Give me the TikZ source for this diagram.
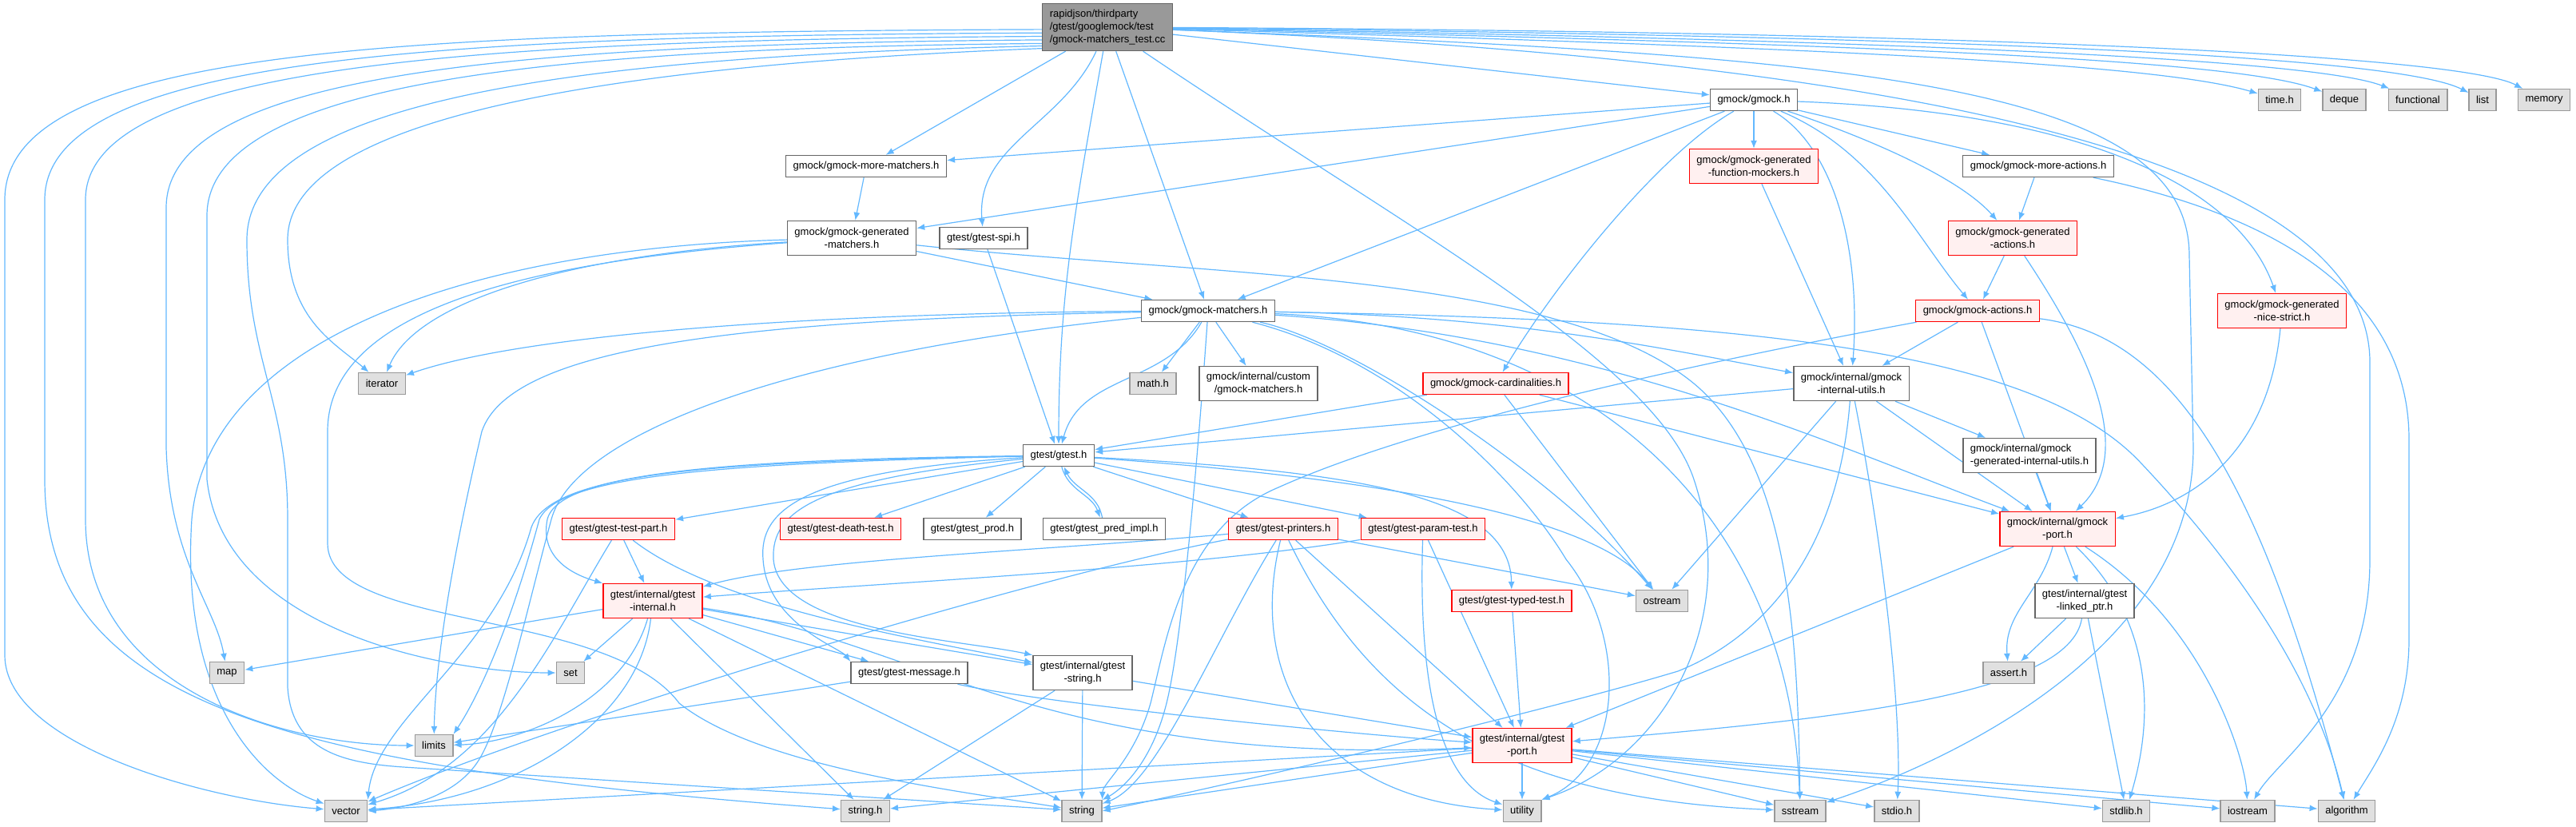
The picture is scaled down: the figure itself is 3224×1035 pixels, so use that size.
\documentclass[tikz,border=0pt]{standalone}
\usepackage{fontspec}
\setmainfont{Liberation Sans}
\usetikzlibrary{arrows.meta}
\definecolor{edgeblue}{HTML}{63B8FF}
\definecolor{boxgray}{HTML}{666666}
\definecolor{sysgray}{HTML}{999999}
\definecolor{sysfill}{HTML}{E0E0E0}
\definecolor{truncred}{HTML}{FF0000}
\definecolor{truncfill}{HTML}{FFF0F0}
\definecolor{rootfill}{HTML}{999999}
\pgfdeclarelayer{background}
\pgfsetlayers{background,main}

\begin{document}
\begin{tikzpicture}[
  x=1pt,y=-1pt,
  hfile/.style={rectangle,draw=boxgray,fill=white,line width=1.4pt,inner xsep=9pt,inner ysep=2pt,minimum height=27pt,align=center,font=\fontsize{13}{15.7}\selectfont},
  twoline/.style={minimum height=43pt},
  sysfile/.style={hfile,draw=sysgray,fill=sysfill},
  trunc/.style={hfile,draw=truncred,fill=truncfill},
  rootfile/.style={hfile,fill=rootfill,align=left,minimum height=59pt},
  dep/.style={draw=edgeblue,line width=1.2pt,-{Latex[length=10pt,width=8pt]}}
]
\useasboundingbox (0,0) rectangle (3224,1035);

% files
\node[rootfile] (root) at (1386,34) {rapidjson/thirdparty\\/gtest/googlemock/test\\/gmock-matchers\_test.cc};
\node[hfile] (gmock) at (2195,125) {gmock/gmock.h};
\node[sysfile] (timeh) at (2853,125) {time.h};
\node[sysfile] (deque) at (2934,125) {deque};
\node[sysfile] (functional) at (3026,125) {functional};
\node[sysfile] (list) at (3107,125) {list};
\node[sysfile] (memory) at (3184,125) {memory};
\node[hfile] (moremat) at (1084,208) {gmock/gmock-more-matchers.h};
\node[trunc,twoline] (genfunc) at (2195,208) {gmock/gmock-generated\\-function-mockers.h};
\node[hfile] (moreact) at (2551,208) {gmock/gmock-more-actions.h};
\node[hfile,twoline] (genmat) at (1066,298) {gmock/gmock-generated\\-matchers.h};
\node[hfile] (spi) at (1231,298) {gtest/gtest-spi.h};
\node[trunc,twoline] (genact) at (2519,298) {gmock/gmock-generated\\-actions.h};
\node[hfile] (matchers) at (1512,389) {gmock/gmock-matchers.h};
\node[trunc] (actions) at (2475,389) {gmock/gmock-actions.h};
\node[trunc,twoline] (nicestrict) at (2856,389) {gmock/gmock-generated\\-nice-strict.h};
\node[sysfile] (iterator) at (478,480) {iterator};
\node[sysfile] (mathh) at (1443,480) {math.h};
\node[hfile,twoline] (custom) at (1575,480) {gmock/internal/custom\\/gmock-matchers.h};
\node[trunc] (card) at (1872,480) {gmock/gmock-cardinalities.h};
\node[hfile,twoline] (intutils) at (2317,480) {gmock/internal/gmock\\-internal-utils.h};
\node[hfile] (gtest) at (1325,570) {gtest/gtest.h};
\node[hfile,twoline,align=left] (genutils) at (2540,570) {gmock/internal/gmock\\-generated-internal-utils.h};
\node[trunc] (testpart) at (774,662) {gtest/gtest-test-part.h};
\node[trunc] (death) at (1052,662) {gtest/gtest-death-test.h};
\node[hfile] (prod) at (1217,662) {gtest/gtest\_prod.h};
\node[hfile] (pred) at (1382,662) {gtest/gtest\_pred\_impl.h};
\node[trunc] (printers) at (1606,662) {gtest/gtest-printers.h};
\node[trunc] (param) at (1781,662) {gtest/gtest-param-test.h};
\node[trunc,twoline] (gmockport) at (2575,662) {gmock/internal/gmock\\-port.h};
\node[trunc,twoline] (gtinternal) at (817,752) {gtest/internal/gtest\\-internal.h};
\node[trunc] (typed) at (1892,752) {gtest/gtest-typed-test.h};
\node[sysfile] (ostream) at (2080,752) {ostream};
\node[hfile,twoline] (linked) at (2609,752) {gtest/internal/gtest\\-linked\_ptr.h};
\node[sysfile] (map) at (284,842) {map};
\node[sysfile] (set) at (714,842) {set};
\node[hfile] (message) at (1138,842) {gtest/gtest-message.h};
\node[hfile,twoline] (gtstring) at (1355,842) {gtest/internal/gtest\\-string.h};
\node[sysfile] (asserth) at (2514,842) {assert.h};
\node[sysfile] (limits) at (543,933) {limits};
\node[trunc,twoline] (gtport) at (1905,933) {gtest/internal/gtest\\-port.h};
\node[sysfile] (vector) at (433,1015) {vector};
\node[sysfile] (stringh) at (1083,1015) {string.h};
\node[sysfile] (string) at (1354,1015) {string};
\node[sysfile] (utility) at (1905,1015) {utility};
\node[sysfile] (sstream) at (2253,1015) {sstream};
\node[sysfile] (stdioh) at (2374,1015) {stdio.h};
\node[sysfile] (stdlibh) at (2661,1015) {stdlib.h};
\node[sysfile] (iostream) at (2813,1015) {iostream};
\node[sysfile] (algorithm) at (2937,1015) {algorithm};

\begin{pgfonlayer}{background}
% includes of the test file
\draw[dep] (root.182) .. controls (500,40) and (6,60) .. (6,250) -- (6,820) .. controls (6,930) and (250,1000) .. (vector);
\draw[dep] (root.185) .. controls (550,45) and (56,70) .. (56,250) -- (56,600) .. controls (56,880) and (350,960) .. (stringh);
\draw[dep] (root.188) .. controls (600,50) and (107,80) .. (107,250) -- (107,650) .. controls (107,860) and (350,933) .. (limits);
\draw[dep] (root.191) .. controls (650,55) and (208,90) .. (208,260) -- (208,560) .. controls (212,700) and (270,760) .. (map);
\draw[dep] (root.194) .. controls (700,60) and (259,100) .. (259,270) -- (259,600) .. controls (280,790) and (560,842) .. (set);
\draw[dep] (root.196) .. controls (750,70) and (309,120) .. (309,300) .. controls (309,450) and (360,500) .. (360,650) -- (360,860) .. controls (365,940) and (430,955) .. (505,960) -- (string);
\draw[dep] (root.198) .. controls (800,80) and (360,140) .. (360,300) .. controls (360,400) and (420,430) .. (iterator);
\draw[dep] (root) -- (moremat);
\draw[dep] (root) to[out=-115,in=95] (spi);
\draw[dep] (root) to[out=-100,in=90] (gtest);
\draw[dep] (root) -- (matchers);
\draw[dep] (root) .. controls (1750,280) and (2070,450) .. (2120,600) .. controls (2180,780) and (2080,950) .. (utility.north east);
\draw[dep] (root) -- (gmock);
\draw[dep] (root) .. controls (2300,60) and (2700,80) .. (timeh);
\draw[dep] (root) .. controls (2350,55) and (2800,75) .. (deque);
\draw[dep] (root) .. controls (2400,50) and (2900,75) .. (functional);
\draw[dep] (root) .. controls (2450,45) and (3000,70) .. (list);
\draw[dep] (root) .. controls (2500,40) and (3080,70) .. (memory);
\draw[dep] (root) .. controls (2300,70) and (2740,100) .. (2740,320) -- (2745,560) .. controls (2745,820) and (2420,960) .. (sstream);
\draw[dep] (root) .. controls (2400,75) and (2960,200) .. (2966,450) -- (2966,700) .. controls (2966,880) and (2850,950) .. (iostream);
% gmock/gmock.h
\draw[dep] (gmock) -- (moremat);
\draw[dep] (gmock) -- (genmat);
\draw[dep] (gmock) -- (matchers);
\draw[dep] (gmock) .. controls (2080,190) and (1950,350) .. (card);
\draw[dep] (gmock) -- (genfunc);
\draw[dep] (gmock) -- (moreact);
\draw[dep] (gmock) .. controls (2330,170) and (2450,220) .. (genact);
\draw[dep] (gmock) .. controls (2350,190) and (2400,300) .. (actions);
\draw[dep] (gmock) .. controls (2290,180) and (2330,300) .. (intutils);
\draw[dep] (gmock) .. controls (2600,140) and (2800,230) .. (nicestrict);
\draw[dep] (moremat) -- (genmat);
\draw[dep] (genmat) .. controls (700,320) and (520,380) .. (iterator);
\draw[dep] (genmat) .. controls (600,310) and (260,420) .. (240,650) .. controls (225,880) and (330,980) .. (vector);
\draw[dep] (genmat) .. controls (620,330) and (410,400) .. (410,540) -- (410,680) .. controls (410,790) and (760,760) .. (850,880) .. controls (950,960) and (1200,990) .. (string);
\draw[dep] (genmat) -- (matchers);
\draw[dep] (genmat) .. controls (1500,345) and (1950,340) .. (2120,480) .. controls (2240,580) and (2250,800) .. (sstream);
\draw[dep] (spi) -- (gtest);
% gmock/gmock-matchers.h
\draw[dep] (matchers) -- (mathh);
\draw[dep] (matchers) -- (custom);
\draw[dep] (matchers) .. controls (1000,392) and (650,420) .. (iterator);
\draw[dep] (matchers) .. controls (950,400) and (640,430) .. (603,540) .. controls (570,680) and (545,820) .. (limits);
\draw[dep] (matchers) .. controls (1000,440) and (720,540) .. (690,650) .. controls (660,760) and (630,900) .. (600,950) .. controls (570,1000) and (500,1012) .. (vector.east);
\draw[dep] (matchers) to[out=-120,in=75] (gtest);
\draw[dep] (matchers) .. controls (1500,560) and (1480,800) .. (1460,880) .. controls (1440,960) and (1400,990) .. (string);
\draw[dep] (matchers) .. controls (1700,430) and (1950,600) .. (ostream);
\draw[dep] (matchers) .. controls (1750,450) and (1900,600) .. (1960,700) .. controls (2040,800) and (2030,960) .. (utility.north east);
\draw[dep] (matchers) .. controls (1900,395) and (2100,440) .. (intutils);
\draw[dep] (matchers) .. controls (2000,420) and (2300,560) .. (gmockport);
\draw[dep] (matchers) .. controls (2200,400) and (2550,440) .. (2680,580) .. controls (2850,760) and (2910,900) .. (algorithm);
\draw[dep] (matchers) .. controls (2000,410) and (2240,650) .. (sstream);
% gtest/gtest.h
\draw[dep] (gtest) -- (death);
\draw[dep] (gtest) -- (prod);
\draw[dep] (gtest) to[out=-75,in=110] (pred);
\draw[dep] (pred) to[out=100,in=-65] (gtest);
\draw[dep] (gtest) -- (printers);
\draw[dep] (gtest) -- (param);
\draw[dep] (gtest) .. controls (1700,590) and (1890,620) .. (typed);
\draw[dep] (gtest) .. controls (1750,600) and (2000,650) .. (ostream);
\draw[dep] (gtest) -- (testpart);
\draw[dep] (gtest) .. controls (920,575) and (700,590) .. (685,650) .. controls (675,700) and (720,720) .. (gtinternal.north west);
\draw[dep] (gtest) .. controls (1000,590) and (950,640) .. (955,700) .. controls (960,780) and (1050,810) .. (message.north west);
\draw[dep] (gtest) .. controls (1020,600) and (965,640) .. (968,700) .. controls (975,790) and (1200,800) .. (gtstring.north west);
\draw[dep] (gtest) .. controls (900,580) and (700,595) .. (675,650) .. controls (640,780) and (600,870) .. (limits.north east);
\draw[dep] (gtest) .. controls (900,578) and (690,590) .. (665,660) .. controls (620,820) and (470,900) .. (vector.north east);
% gtest parts
\draw[dep] (testpart) .. controls (690,800) and (620,960) .. (vector);
\draw[dep] (testpart) -- (gtinternal);
\draw[dep] (testpart) .. controls (900,760) and (1150,800) .. (gtstring);
\draw[dep] (printers) .. controls (1300,690) and (1000,700) .. (gtinternal);
\draw[dep] (printers) -- (ostream);
\draw[dep] (printers) .. controls (1520,800) and (1450,980) .. (string);
\draw[dep] (printers) .. controls (1560,850) and (1650,1000) .. (utility);
\draw[dep] (printers) .. controls (1720,900) and (1900,1000) .. (sstream);
\draw[dep] (printers) -- (gtport);
\draw[dep] (printers) .. controls (1300,720) and (700,900) .. (vector);
\draw[dep] (param) .. controls (1500,710) and (1100,730) .. (gtinternal);
\draw[dep] (param) .. controls (1775,850) and (1800,980) .. (utility);
\draw[dep] (param) -- (gtport);
\draw[dep] (typed) -- (gtport);
\draw[dep] (gtinternal) -- (map);
\draw[dep] (gtinternal) -- (set);
\draw[dep] (gtinternal) .. controls (780,880) and (650,930) .. (limits);
\draw[dep] (gtinternal) .. controls (800,900) and (650,1000) .. (vector);
\draw[dep] (gtinternal) -- (stringh);
\draw[dep] (gtinternal) -- (string);
\draw[dep] (gtinternal) -- (message);
\draw[dep] (gtinternal) -- (gtstring);
\draw[dep] (gtinternal) .. controls (1150,800) and (1300,960) .. (gtport);
\draw[dep] (message) -- (limits);
\draw[dep] (message) .. controls (1300,880) and (1700,920) .. (gtport);
\draw[dep] (gtstring) -- (stringh);
\draw[dep] (gtstring) -- (string);
\draw[dep] (gtstring) -- (gtport);
\draw[dep] (gtport) -- (vector);
\draw[dep] (gtport) -- (stringh);
\draw[dep] (gtport) -- (string);
\draw[dep] (gtport) -- (utility);
\draw[dep] (gtport) -- (sstream);
\draw[dep] (gtport) -- (stdioh);
\draw[dep] (gtport) -- (stdlibh);
\draw[dep] (gtport) -- (iostream);
\draw[dep] (gtport) -- (algorithm);
% gmock internals
\draw[dep] (gmockport) -- (gtport);
\draw[dep] (gmockport) to[out=-105,in=95] (asserth);
\draw[dep] (gmockport) -- (linked);
\draw[dep] (gmockport) .. controls (2720,800) and (2680,950) .. (stdlibh);
\draw[dep] (gmockport) .. controls (2760,780) and (2810,950) .. (iostream);
\draw[dep] (linked) -- (asserth);
\draw[dep] (linked) -- (stdlibh);
\draw[dep] (linked) .. controls (2590,870) and (2300,900) .. (gtport);
\draw[dep] (intutils) -- (gtest);
\draw[dep] (intutils) -- (ostream);
\draw[dep] (intutils) .. controls (2300,700) and (2200,800) .. (2100,840) .. controls (1900,900) and (1500,990) .. (string.east);
\draw[dep] (intutils) .. controls (2360,700) and (2380,900) .. (stdioh);
\draw[dep] (intutils) -- (genutils);
\draw[dep] (intutils) -- (gmockport);
\draw[dep] (card) -- (gtest);
\draw[dep] (card) -- (ostream);
\draw[dep] (card) -- (gmockport);
\draw[dep] (genutils) -- (gmockport);
\draw[dep] (actions) .. controls (2200,440) and (1800,520) .. (1600,610) .. controls (1480,660) and (1460,800) .. (1440,880) .. controls (1420,950) and (1380,980) .. (string.north east);
\draw[dep] (actions) -- (intutils);
\draw[dep] (actions) -- (gmockport);
\draw[dep] (actions) .. controls (2720,420) and (2830,600) .. (algorithm);
\draw[dep] (genact) -- (actions);
\draw[dep] (genact) .. controls (2600,420) and (2680,560) .. (gmockport);
\draw[dep] (genfunc) -- (intutils);
\draw[dep] (moreact) -- (genact);
\draw[dep] (moreact) .. controls (2900,280) and (3015,400) .. (3015,550) -- (3015,800) .. controls (3015,900) and (2970,960) .. (algorithm);
\draw[dep] (nicestrict) .. controls (2840,560) and (2750,630) .. (gmockport);
\end{pgfonlayer}
\end{tikzpicture}
\end{document}
